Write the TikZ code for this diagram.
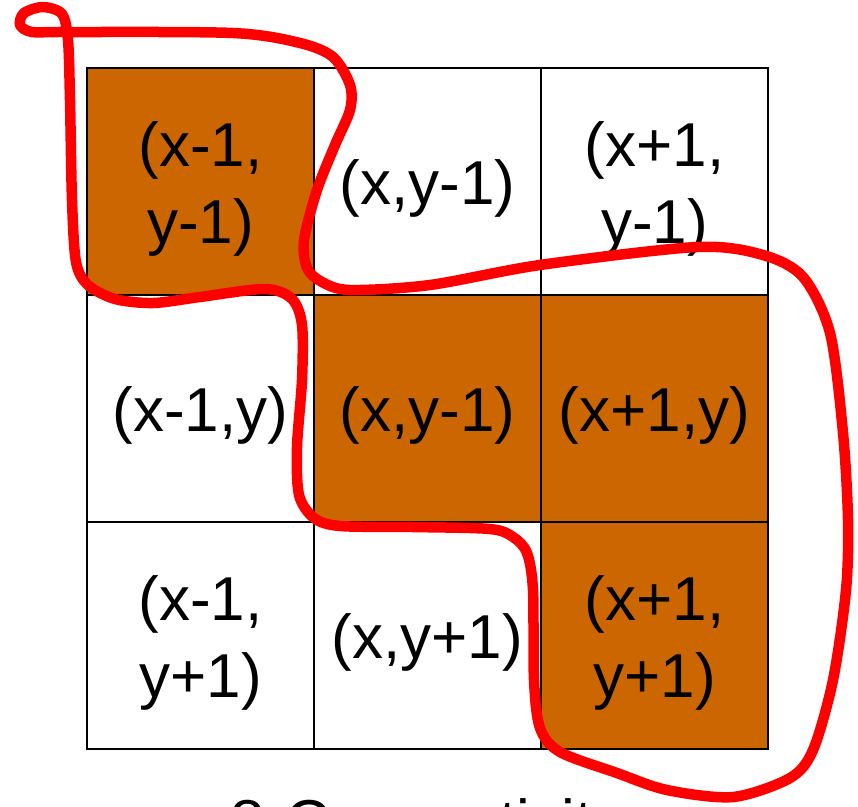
\documentclass[tikz,border=0pt]{standalone}
\usepackage{fontspec}
\setmainfont{Liberation Sans}
\usepackage{xcolor}
\usepackage{tikz}
\definecolor{cellfill}{HTML}{CC6600}
\definecolor{loopred}{HTML}{FF0000}

\begin{document}
\begin{tikzpicture}[x=1pt,y=-1pt,
  cell/.style={draw,line width=1.5pt,minimum size=227pt,inner sep=0pt},
  celltext/.style={align=center,inner sep=0pt,yshift=-7pt,font=\fontsize{62}{77}\selectfont}]
  \clip (0,0) rectangle (858,806);
  \fill[white] (0,0) rectangle (858,806);
  % 3x3 neighbourhood
  \foreach \i/\j/\txt/\col in {0/0/{(x-1,\\y-1)}/cellfill, 1/0/{(x,y-1)}/white, 2/0/{(x+1,\\y-1)}/white,
      0/1/{(x-1,y)}/white, 1/1/{(x,y-1)}/cellfill, 2/1/{(x+1,y)}/cellfill,
      0/2/{(x-1,\\y+1)}/white, 1/2/{(x,y+1)}/white, 2/2/{(x+1,\\y+1)}/cellfill}
    \node[cell,fill=\col,label={[celltext]center:\txt}] (c\i\j) at ({200.5+227*\i},{181.5+227*\j}) {};
  % freehand outline of the connected pixels
  \draw[loopred,line width=10.5pt,line join=round] plot[smooth cycle] coordinates {
    (300,43) (333,57) (350,85) (350,110) (335,145) (317,190) (304,240) (307,268) (322,282)
    (350,290) (430,285) (540,265) (697,247) (763,255) (803,277) (830,333) (843,433)
    (848,520) (846,590) (833,680) (813,750) (790,778) (733,797) (667,790) (617,773)
    (560,752) (540,728) (534,680) (533,590) (527,553) (513,537) (490,529) (413,527)
    (340,526) (314,518) (299,495) (297,447) (302,380) (302,325) (292,299) (265,289)
    (200,297) (153,303) (115,299) (88,285) (76,262) (72,200) (70,100) (68,40) (62,14)
    (43,7) (24,13) (20,25) (32,32) (67,32) (233,33)};
  \node[font=\fontsize{62}{77}\selectfont,anchor=base] (caption) at (427,843) {8-Connectivity};
\end{tikzpicture}
\end{document}
